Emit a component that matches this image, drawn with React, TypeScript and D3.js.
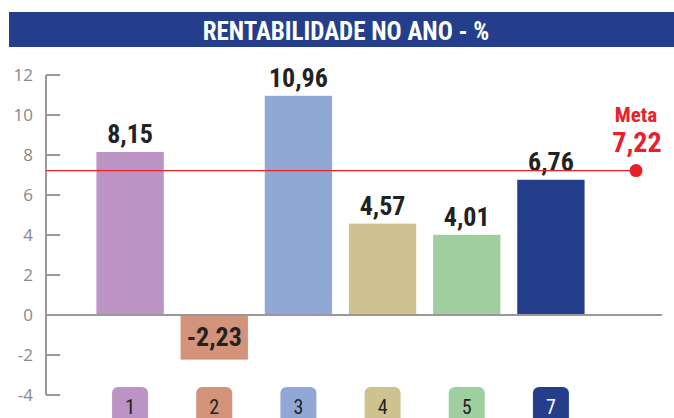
import React from "react";
import * as d3 from "d3";

const categories = ["1", "2", "3", "4", "5", "7"];
const values = [8.15, -2.23, 10.96, 4.57, 4.01, 6.76];
const labels = ["8,15", "-2,23", "10,96", "4,57", "4,01", "6,76"];
const colors = ["#bb93c4", "#d3937a", "#91a8d7", "#cfc291", "#9fcf9f", "#243e8c"];
const legendText = ["#222", "#222", "#222", "#222", "#222", "#fff"];
const yTicks = [12, 10, 8, 6, 4, 2, 0, -2, -4];
const metaValue = 7.22;
const metaLabel = "7,22";
const title = "RENTABILIDADE NO ANO - %";

const W = 674;
const H = 418;
const FONT = "'Liberation Sans Narrow', 'Roboto Condensed', 'Open Sans', sans-serif";

export default function App() {
  const y = d3.scaleLinear().domain([-4, 12]).range([395, 75]);
  const x = d3.scaleBand().domain(categories).range([88, 593]).paddingInner(0.2).paddingOuter(0.1);
  const axisX = 46;
  return (
    <svg width={W} height={H} style={{ position: "absolute", left: 0, top: 0 }}>
      <rect x={9} y={12} width={W - 9} height={35} fill="#243e8c" />
      <text x={346} y={40} textAnchor="middle" fill="#fff" fontFamily={FONT} fontWeight="bold" fontSize={25}>
        {title}
      </text>
      {/* axis */}
      <line x1={axisX} x2={axisX} y1={y(12)} y2={y(-4)} stroke="#999" strokeWidth={2} />
      {yTicks.map((t) => (
        <g key={t}>
          <line x1={axisX} x2={60} y1={y(t)} y2={y(t)} stroke="#999" strokeWidth={2} />
          <text x={33} y={y(t) + 6} textAnchor="end" fill="#888" fontFamily="'Open Sans', sans-serif" fontSize={17}>
            {t}
          </text>
        </g>
      ))}
      {/* bars */}
      {values.map((v, i) => {
        const c = categories[i];
        const bx = x(c)!;
        const top = y(Math.max(0, v));
        const h = Math.abs(y(v) - y(0));
        return (
          <g key={c}>
            <rect x={bx} y={top} width={x.bandwidth()} height={h} fill={colors[i]} />
          </g>
        );
      })}
      <line x1={axisX} x2={662} y1={y(0)} y2={y(0)} stroke="#999" strokeWidth={2} />
      {values.map((v, i) => {
        const c = categories[i];
        const cx = x(c)! + x.bandwidth() / 2;
        const ly = v >= 0 ? y(v) - 9 : (y(0) + y(v)) / 2 + 9;
        return (
          <text key={c} x={cx} y={ly} textAnchor="middle" fill="#222" fontFamily={FONT} fontWeight="bold" fontSize={26}>
            {labels[i]}
          </text>
        );
      })}
      {/* meta */}
      <line x1={axisX} x2={636} y1={y(metaValue)} y2={y(metaValue)} stroke="#e8202a" strokeWidth={1.3} />
      <circle cx={636} cy={y(metaValue)} r={6.5} fill="#e8202a" />
      <text x={636} y={122} textAnchor="middle" fill="#e8202a" fontFamily={FONT} fontWeight="bold" fontSize={21}>
        Meta
      </text>
      <text x={637} y={152} textAnchor="middle" fill="#e8202a" fontFamily={FONT} fontWeight="bold" fontSize={28}>
        {metaLabel}
      </text>
      {/* legend */}
      {categories.map((c, i) => {
        const cx = x(c)! + x.bandwidth() / 2;
        return (
          <g key={c}>
            <rect x={cx - 18} y={387} width={36} height={40} rx={6} fill={colors[i]} />
            <text x={cx} y={414} textAnchor="middle" fill={legendText[i]} fontFamily={FONT} fontSize={20}>
              {c}
            </text>
          </g>
        );
      })}
    </svg>
  );
}
